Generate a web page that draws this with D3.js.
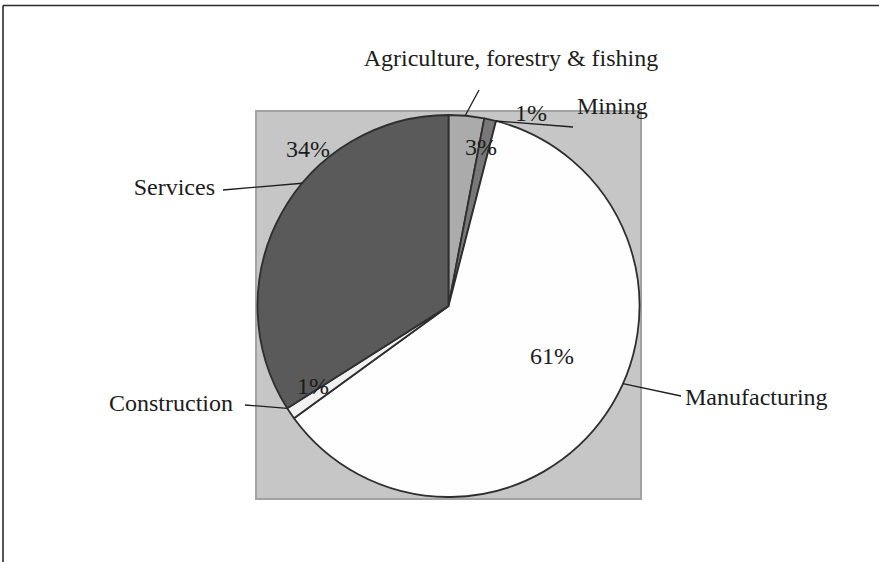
<!DOCTYPE html>
<html>
<head>
<meta charset="utf-8">
<script src="https://cdn.jsdelivr.net/npm/d3@7"></script>
<style>
  html, body { margin: 0; padding: 0; background: #ffffff; }
  svg { display: block; }
  text { font-family: "Liberation Serif", "Times New Roman", serif; fill: #1c1c1c; }
</style>
</head>
<body>
<svg id="chart" width="879" height="562"></svg>
<script>
// Sector shares of output, clockwise from 12 o'clock
const sectors = ["Agriculture, forestry & fishing", "Mining", "Manufacturing", "Construction", "Services"];
const shares = [3, 1, 61, 1, 34];
const fills = ["#ababab", "#787878", "#fefefe", "#f1f1f1", "#5a5a5a"];

// Label layout: name anchor, leader outer end, preferred rim angle (deg) for the leader
const nameLayout = [
  { x: 511, y: 66, anchor: "middle", lx: 479, ly: 90, rim: 5 },
  { x: 577, y: 114, anchor: "start", lx: 573, ly: 127, rim: 27 },
  { x: 685, y: 405, anchor: "start", lx: 681, ly: 396, rim: 114 },
  { x: 233, y: 411, anchor: "end", lx: 245, ly: 405, rim: 240 },
  { x: 215, y: 195, anchor: "end", lx: 223, ly: 190, rim: 310 }
];
const pctLayout = [
  { x: 481, y: 155 },
  { x: 531, y: 121 },
  { x: 552, y: 364 },
  { x: 313, y: 394 },
  { x: 308, y: 157 }
];

const svg = d3.select("#chart");
const W = 879, H = 562;
const cx = 448.5, cy = 306, r = 191;

// outer frame (top and left rules)
svg.append("line").attr("x1", 3).attr("y1", 5.5).attr("x2", W).attr("y2", 5.5)
  .attr("stroke", "#2b2b2b").attr("stroke-width", 1.6);
svg.append("line").attr("x1", 3).attr("y1", 5.5).attr("x2", 3).attr("y2", H)
  .attr("stroke", "#2b2b2b").attr("stroke-width", 1.6);

// plot area
svg.append("rect")
  .attr("x", cx - r - 1.5).attr("y", cy - r - 4)
  .attr("width", 2 * r + 3).attr("height", 2 * r + 6)
  .attr("fill", "#c6c6c6").attr("stroke", "#a2a2a2").attr("stroke-width", 2);

const data = sectors.map((name, i) => ({ name, value: shares[i], fill: fills[i] }));

const pie = d3.pie().sort(null).value(d => d.value).startAngle(0).endAngle(2 * Math.PI);
const arcs = pie(data);
const arc = d3.arc().innerRadius(0).outerRadius(r);

const g = svg.append("g").attr("transform", `translate(${cx},${cy})`);

g.selectAll("path.slice")
  .data(arcs)
  .join("path")
  .attr("class", "slice")
  .attr("d", arc)
  .attr("fill", d => d.data.fill)
  .attr("stroke", "#2e2e2e")
  .attr("stroke-width", 1.8)
  .attr("stroke-linejoin", "round");

// leader lines: start on the slice's rim, at the preferred angle kept within the slice
const rimAngle = d => {
  const a = nameLayout[d.index].rim * Math.PI / 180;
  return Math.max(d.startAngle, Math.min(d.endAngle, a));
};
const rimX = d => Math.sin(rimAngle(d)) * r;
const rimY = d => -Math.cos(rimAngle(d)) * r;

g.selectAll("line.leader")
  .data(arcs)
  .join("line")
  .attr("class", "leader")
  .attr("x1", rimX)
  .attr("y1", rimY)
  .attr("x2", d => nameLayout[d.index].lx - cx)
  .attr("y2", d => nameLayout[d.index].ly - cy)
  .attr("stroke", "#1e1e1e")
  .attr("stroke-width", 1.3);

// sector names
svg.selectAll("text.name")
  .data(arcs)
  .join("text")
  .attr("class", "name")
  .attr("x", d => nameLayout[d.index].x)
  .attr("y", d => nameLayout[d.index].y)
  .attr("text-anchor", d => nameLayout[d.index].anchor)
  .attr("font-size", 24)
  .text(d => d.data.name);

// percentage labels
svg.selectAll("text.pct")
  .data(arcs)
  .join("text")
  .attr("class", "pct")
  .attr("x", d => pctLayout[d.index].x)
  .attr("y", d => pctLayout[d.index].y)
  .attr("text-anchor", "middle")
  .attr("font-size", 24)
  .text(d => d3.format(".0f")(d.data.value) + "%");
</script>
</body>
</html>
